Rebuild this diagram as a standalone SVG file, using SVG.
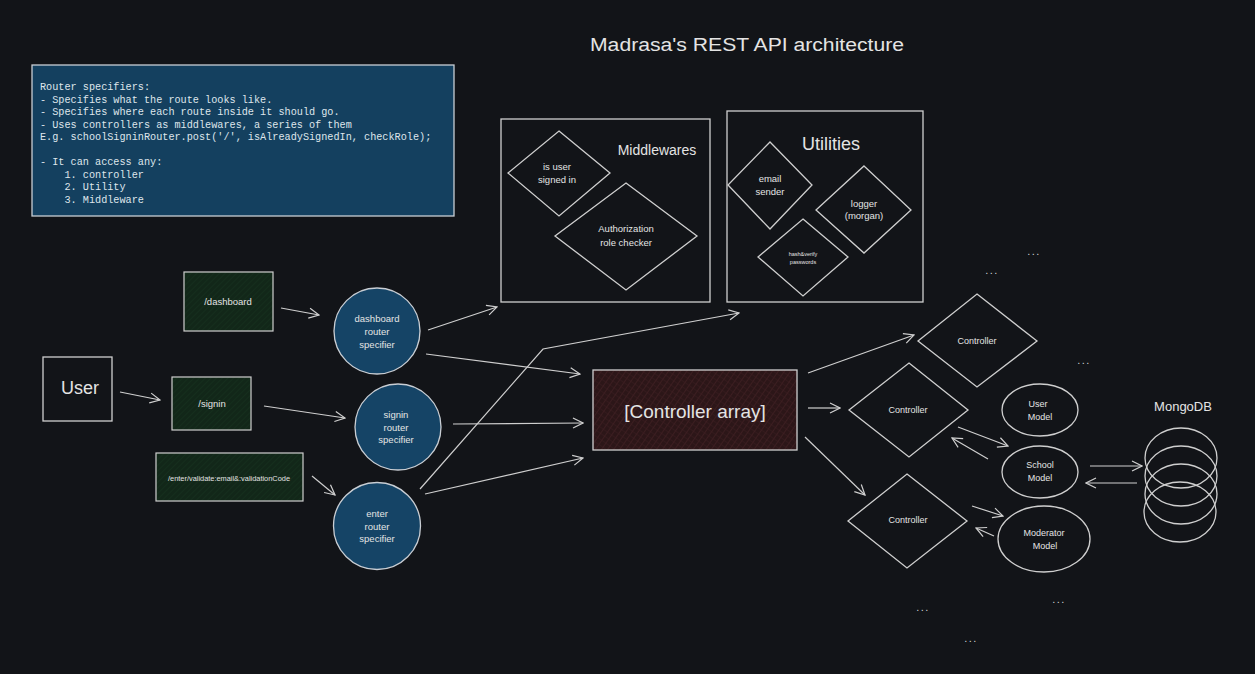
<svg xmlns="http://www.w3.org/2000/svg" width="1255" height="674" viewBox="0 0 1255 674">
<defs>
<style>
.bg{fill:#121418}
.sk{fill:none;stroke:#cfcfcf;stroke-width:1.3}
.bx{fill:#121418;stroke:#cfcfcf;stroke-width:1.3}
.circ{fill:#154466;stroke:#c9ced4;stroke-width:1.3}
.t{font-family:"Liberation Sans","DejaVu Sans",sans-serif;fill:#e4e4e4;text-anchor:middle}
.mono{font-family:"Liberation Mono","DejaVu Sans Mono",monospace;font-size:10.2px;fill:#dfe6ec}
.ar{fill:none;stroke:#cfcfcf;stroke-width:1.2;marker-end:url(#ah)}
.dots{font-family:"Liberation Sans",sans-serif;font-size:11px;fill:#cfcfcf;text-anchor:middle;letter-spacing:1.5px}
</style>
<marker id="ah" viewBox="0 0 12 12" refX="11" refY="6" markerWidth="12" markerHeight="12" markerUnits="userSpaceOnUse" orient="auto">
<path d="M1,1 L11,6 L1,11" fill="none" stroke="#cfcfcf" stroke-width="1.2"/>
</marker>
<pattern id="hg" width="4" height="4" patternUnits="userSpaceOnUse" patternTransform="rotate(45)">
<rect width="4" height="4" fill="#122719"/>
<line x1="0" y1="0" x2="0" y2="4" stroke="#17331f" stroke-width="1.2"/>
</pattern>
<pattern id="hr" width="5" height="5" patternUnits="userSpaceOnUse" patternTransform="rotate(35)">
<rect width="5" height="5" fill="#2c1618"/>
<line x1="0" y1="0" x2="0" y2="5" stroke="#472227" stroke-width="1.2"/>
<line x1="0" y1="0" x2="5" y2="0" stroke="#3b1d21" stroke-width="1"/>
</pattern>
</defs>
<rect class="bg" x="0" y="0" width="1255" height="674"/>

<g id="title">
<text class="t" x="747" y="51" font-size="18" textLength="314" lengthAdjust="spacingAndGlyphs">Madrasa's REST API architecture</text>
</g>

<g id="info-note">
<rect x="32" y="65" width="422" height="151" fill="#14405f" stroke="#c8ced4" stroke-width="1.3"/>
<text class="mono" x="40" y="90">Router specifiers:</text>
<text class="mono" x="40" y="102.5">- Specifies what the route looks like.</text>
<text class="mono" x="40" y="115">- Specifies where each route inside it should go.</text>
<text class="mono" x="40" y="127.5">- Uses controllers as middlewares, a series of them</text>
<text class="mono" x="40" y="140">E.g. schoolSigninRouter.post('/', isAlreadySignedIn, checkRole);</text>
<text class="mono" x="40" y="165">- It can access any:</text>
<text class="mono" x="40" y="177.5" xml:space="preserve">    1. controller</text>
<text class="mono" x="40" y="190" xml:space="preserve">    2. Utility</text>
<text class="mono" x="40" y="202.5" xml:space="preserve">    3. Middleware</text>
</g>

<g id="middlewares">
<rect class="bx" x="501" y="119" width="209" height="183"/>
<text class="t" x="657" y="155" font-size="14">Middlewares</text>
</g>
<g id="is-user-signed-in">
<polygon class="sk" points="559,131 610,173 559,216 508,173"/>
<text class="t" x="557" y="170" font-size="9.5">is user</text>
<text class="t" x="557" y="183" font-size="9.5">signed in</text>
</g>
<g id="authorization">
<polygon class="sk" points="626,183 697,236 626,290 555,236"/>
<text class="t" x="626" y="232" font-size="9.5">Authorization</text>
<text class="t" x="626" y="246" font-size="9.5">role checker</text>
</g>

<g id="utilities">
<rect class="bx" x="727" y="111" width="196" height="191"/>
<text class="t" x="831" y="150" font-size="18">Utilities</text>
</g>
<g id="email-sender">
<polygon class="sk" points="770,142 812,185 770,229 728,185"/>
<text class="t" x="770" y="182" font-size="9.5">email</text>
<text class="t" x="770" y="195" font-size="9.5">sender</text>
</g>
<g id="logger">
<polygon class="sk" points="864,166 911,210 864,253 816,210"/>
<text class="t" x="864" y="207" font-size="9.5">logger</text>
<text class="t" x="864" y="219" font-size="9.5">(morgan)</text>
</g>
<g id="hash-verify">
<polygon class="sk" points="803,219 848,257 803,296 758,257"/>
<text class="t" x="803" y="256" font-size="5.5">hash&amp;verify</text>
<text class="t" x="803" y="264" font-size="5.5">passwords</text>
</g>

<g id="user">
<rect class="bx" x="43" y="357" width="69" height="64"/>
<text class="t" x="80" y="394" font-size="18">User</text>
</g>
<g id="route-dashboard">
<rect x="184" y="272" width="89" height="59" fill="url(#hg)" stroke="#cfcfcf" stroke-width="1.2"/>
<text class="t" x="228" y="305" font-size="9.5">/dashboard</text>
</g>
<g id="route-signin">
<rect x="172" y="377" width="79" height="53" fill="url(#hg)" stroke="#cfcfcf" stroke-width="1.2"/>
<text class="t" x="212" y="407" font-size="9.5">/signin</text>
</g>
<g id="route-enter">
<rect x="156" y="453" width="147" height="48" fill="url(#hg)" stroke="#cfcfcf" stroke-width="1.2"/>
<text class="t" x="229" y="481" font-size="7.4">/enter/validate:email&amp;:validationCode</text>
</g>

<g id="dashboard-router">
<circle class="circ" cx="377" cy="331" r="43"/>
<text class="t" x="377" y="322" font-size="9.5">dashboard</text>
<text class="t" x="377" y="335" font-size="9.5">router</text>
<text class="t" x="377" y="348" font-size="9.5">specifier</text>
</g>
<g id="signin-router">
<circle class="circ" cx="398" cy="427" r="43"/>
<text class="t" x="396" y="418" font-size="9.5">signin</text>
<text class="t" x="396" y="431" font-size="9.5">router</text>
<text class="t" x="396" y="443" font-size="9.5">specifier</text>
</g>
<g id="enter-router">
<circle class="circ" cx="377" cy="526" r="43.5"/>
<text class="t" x="377" y="517" font-size="9.5">enter</text>
<text class="t" x="377" y="530" font-size="9.5">router</text>
<text class="t" x="377" y="542" font-size="9.5">specifier</text>
</g>

<g id="controller-array">
<rect x="593" y="370" width="204" height="80" fill="url(#hr)" stroke="#cfcfcf" stroke-width="1.3"/>
<text class="t" x="695" y="418" font-size="19">[Controller array]</text>
</g>

<g id="controller-1">
<polygon class="sk" points="977,294 1037,341 977,387 918,341"/>
<text class="t" x="977" y="344" font-size="9">Controller</text>
</g>
<g id="controller-2">
<polygon class="sk" points="909,363 968,410 909,457 849,410"/>
<text class="t" x="908" y="413" font-size="9">Controller</text>
</g>
<g id="controller-3">
<polygon class="sk" points="907,474 967,521 907,568 848,521"/>
<text class="t" x="908" y="523" font-size="9">Controller</text>
</g>

<g id="user-model">
<ellipse class="sk" cx="1040" cy="410" rx="38" ry="26"/>
<text class="t" x="1038" y="407" font-size="9">User</text>
<text class="t" x="1040" y="420" font-size="9">Model</text>
</g>
<g id="school-model">
<ellipse class="sk" cx="1040" cy="472" rx="38" ry="26"/>
<text class="t" x="1040" y="468" font-size="9">School</text>
<text class="t" x="1040" y="481" font-size="9">Model</text>
</g>
<g id="moderator-model">
<ellipse class="sk" cx="1044" cy="539" rx="46" ry="33"/>
<text class="t" x="1044" y="536" font-size="9">Moderator</text>
<text class="t" x="1045" y="549" font-size="9">Model</text>
</g>

<g id="mongodb">
<text class="t" x="1183" y="411" font-size="13">MongoDB</text>
<ellipse class="sk" cx="1181" cy="458" rx="36" ry="30"/>
<ellipse class="sk" cx="1181" cy="476" rx="36" ry="30"/>
<ellipse class="sk" cx="1181" cy="494" rx="36" ry="30"/>
<ellipse class="sk" cx="1180" cy="512" rx="36" ry="30"/>
</g>

<g id="ellipsis">
<text class="dots" x="992" y="274">...</text>
<text class="dots" x="1034" y="255">...</text>
<text class="dots" x="1084" y="364">...</text>
<text class="dots" x="923" y="611">...</text>
<text class="dots" x="1059" y="603">...</text>
<text class="dots" x="971" y="642">...</text>
</g>

<g id="connectors">
<path class="ar" d="M120,392 L160,400"/>
<path class="ar" d="M281,308 L319,315"/>
<path class="ar" d="M264,406 L345,418"/>
<path class="ar" d="M312,476 L335,495"/>
<path class="ar" d="M428,330 L497,307"/>
<path class="ar" d="M426,354 L580,374"/>
<path class="ar" d="M453,424 L583,423"/>
<path class="ar" d="M425,494 L583,458"/>
<path class="ar" d="M420,489 L543,349 L739,313"/>
<path class="ar" d="M808,373 L914,335"/>
<path class="ar" d="M808,408 L840,408"/>
<path class="ar" d="M805,437 L865,495"/>
<path class="ar" d="M958,427 L1008,446"/>
<path class="ar" d="M988,459 L952,438"/>
<path class="ar" d="M972,506 L1003,516"/>
<path class="ar" d="M994,536 L976,528"/>
<path class="ar" d="M1090,466 L1142,466"/>
<path class="ar" d="M1137,483 L1086,483"/>
</g>
</svg>
